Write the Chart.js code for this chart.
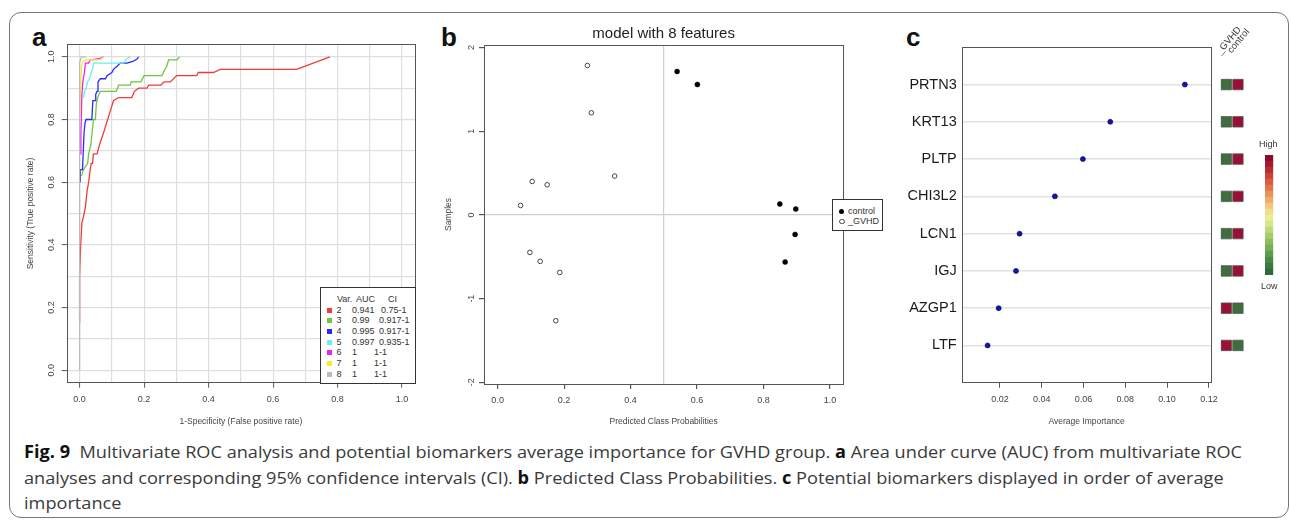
<!DOCTYPE html>
<html>
<head>
<meta charset="utf-8">
<script src="https://cdn.jsdelivr.net/npm/chart.js@4.4.1/dist/chart.umd.min.js"></script>
<style>
  html, body { margin: 0; padding: 0; background: #fff; }
  body { width: 1290px; height: 521px; position: relative; overflow: hidden; font-family: 'Liberation Sans', Arial, sans-serif; color: #333; }
  canvas { position: absolute; }
  .abs { position: absolute; white-space: nowrap; }
  .outer { position: absolute; left: 9px; top: 12px; width: 1278px; height: 504px; border: 1px solid #777; border-radius: 12px; }
  .panel { position: absolute; font: bold 26px/26px 'Liberation Sans', Arial, sans-serif; color: #111; }
  .leg { position: absolute; background: #fff; border: 1px solid #333; font-size: 9px; line-height: 10px; color: #333; }
  .leg span { position: absolute; white-space: nowrap; }
  .cap { position: absolute; left: 24px; height: 20px; font: 17px/20px 'Open Sans', 'Noto Sans', sans-serif; color: #3a3a3a; white-space: nowrap; transform-origin: 0 50%; }
  .cap b { color: #111; }
</style>
</head>
<body>
<div class="outer"></div>
<div class="panel" style="left:32px; top:24px;">a</div>
<div class="panel" style="left:441px; top:24px;">b</div>
<div class="panel" style="left:906px; top:24px;">c</div>

<canvas id="rocChart" width="410" height="390" style="left:10px; top:40px;"></canvas>
<canvas id="probChart" width="460" height="410" style="left:430px; top:20px;"></canvas>
<canvas id="impChart" width="330" height="410" style="left:890px; top:20px;"></canvas>
<canvas id="heatChart" width="40" height="410" style="left:1212px; top:20px;"></canvas>
<canvas id="barChart" width="30" height="130" style="left:1255px; top:150px;"></canvas>

<div id="legA" class="leg" style="left:320px; top:287px; width:94px; height:95px;"></div>
<div id="legB" class="leg" style="left:832px; top:199px; width:49px; height:30px;"></div>
<div id="heatLabels"></div>
<div class="abs" style="left:1259px; top:139px; font-size:9px; color:#333;">High</div>
<div class="abs" style="left:1261px; top:281px; font-size:9px; color:#333;">Low</div>

<div class="cap" style="top:442px;"><b>Fig. 9</b>&nbsp; Multivariate ROC analysis and potential biomarkers average importance for GVHD group. <b>a</b> Area under curve (AUC) from multivariate ROC</div>
<div class="cap" style="top:468px;">analyses and corresponding 95% confidence intervals (CI). <b>b</b> Predicted Class Probabilities. <b>c</b> Potential biomarkers displayed in order of average</div>
<div class="cap" style="top:493px;">importance</div>

<script>
// ---- panel a: ROC curves
const rocVars = ['2', '3', '4', '5', '6', '7', '8'];
const rocAuc  = ['0.941', '0.99', '0.995', '0.997', '1', '1', '1'];
const rocCi   = ['0.75-1', '0.917-1', '0.917-1', '0.935-1', '1-1', '1-1', '1-1'];
const rocColors = ['#f23a3a', '#6cc83c', '#2a2aff', '#66f0f0', '#ee22ee', '#f2ee2a', '#bdbdbd'];

const var2Fpr = [0, 0, 0.003, 0.007, 0.012, 0.018, 0.023, 0.028, 0.033, 0.036, 0.040, 0.043, 0.054, 0.062, 0.075, 0.090, 0.105, 0.121, 0.162, 0.170, 0.183, 0.209, 0.214, 0.252, 0.262, 0.281, 0.301, 0.363, 0.368, 0.415, 0.436, 0.673, 0.776];
const var2Tpr = [0.15, 0.30, 0.39, 0.47, 0.49, 0.52, 0.57, 0.60, 0.64, 0.66, 0.66, 0.69, 0.69, 0.72, 0.76, 0.81, 0.86, 0.87, 0.87, 0.89, 0.90, 0.90, 0.91, 0.91, 0.92, 0.92, 0.94, 0.94, 0.95, 0.95, 0.96, 0.96, 1.0];
const var3Fpr = [0.006, 0.010, 0.018, 0.025, 0.028, 0.035, 0.038, 0.043, 0.049, 0.052, 0.056, 0.064, 0.114, 0.121, 0.157, 0.160, 0.190, 0.200, 0.255, 0.270, 0.276, 0.302, 0.310];
const var3Tpr = [0.62, 0.635, 0.65, 0.66, 0.69, 0.72, 0.75, 0.80, 0.80, 0.85, 0.87, 0.89, 0.89, 0.91, 0.91, 0.92, 0.92, 0.94, 0.94, 0.97, 0.99, 0.99, 1.0];
const var4Fpr = [0.002, 0.002, 0.009, 0.011, 0.014, 0.017, 0.020, 0.038, 0.041, 0.048, 0.050, 0.054, 0.057, 0.064, 0.080, 0.085, 0.100, 0.105, 0.116, 0.126, 0.147, 0.167, 0.178, 0.183];
const var4Tpr = [0.60, 0.64, 0.64, 0.69, 0.76, 0.79, 0.80, 0.80, 0.86, 0.86, 0.88, 0.89, 0.92, 0.93, 0.93, 0.94, 0.95, 0.96, 0.97, 0.98, 0.98, 0.986, 0.993, 1.0];
const var5Fpr = [0.012, 0.015, 0.020, 0.025, 0.030, 0.035, 0.040, 0.043, 0.136, 0.147, 0.157];
const var5Tpr = [0.87, 0.89, 0.90, 0.92, 0.93, 0.945, 0.96, 0.98, 0.98, 0.995, 1.0];
const var6Fpr = [0.002, 0.004, 0.007, 0.010, 0.015, 0.018, 0.028, 0.033, 0.064, 0.074];
const var6Tpr = [0.69, 0.75, 0.88, 0.92, 0.95, 0.98, 0.98, 0.99, 0.995, 1.0];
const var7Fpr = [0, 0.003, 0.006, 0.010, 0.020, 0.064, 0.074];
const var7Tpr = [0.79, 0.90, 0.97, 0.985, 0.99, 0.99, 1.0];
const var8Fpr = [0, 0, 0.005, 0.020];
const var8Tpr = [0, 0.98, 1.0, 1.0];
const rocGrid = [0, 0.1, 0.2, 0.3, 0.4, 0.5, 0.6, 0.7, 0.8, 0.9, 1.0];

// ---- panel b: predicted class probabilities
const controlProb   = [0.540, 0.601, 0.849, 0.897, 0.895, 0.865];
const controlSample = [1.713, 1.558, 0.13, 0.07, -0.233, -0.563];
const gvhdProb   = [0.270, 0.282, 0.352, 0.104, 0.149, 0.069, 0.097, 0.128, 0.187, 0.175];
const gvhdSample = [1.785, 1.22, 0.464, 0.40, 0.36, 0.113, -0.448, -0.555, -0.687, -1.264];
const probTicks   = [0, 0.2, 0.4, 0.5, 0.6, 0.8, 1.0];
const sampleTicks = [-2, -1, 0, 1, 2];

// ---- panel c: average importance + group levels
const genes = ['PRTN3', 'KRT13', 'PLTP', 'CHI3L2', 'LCN1', 'IGJ', 'AZGP1', 'LTF'];
const importance = [0.1085, 0.0728, 0.0597, 0.0463, 0.0294, 0.0277, 0.0194, 0.0141];
const impTicks = [0.02, 0.04, 0.06, 0.08, 0.10, 0.12];
const heatCols = ['_GVHD', 'control'];
const gvhdLevel    = ['low', 'low', 'low', 'low', 'low', 'low', 'high', 'high'];
const controlLevel = ['high', 'high', 'high', 'high', 'high', 'high', 'low', 'low'];
const levelColor = { high: '#9a1034', low: '#3e6e3e' };
const colorbarColors = ['#2f6a3a', '#3b7a3e', '#4a8a45', '#5e9c4d', '#74ae56', '#8bbe60', '#a3cc6c', '#bcdb7b', '#d6e78b', '#eaec98',
                        '#f2dd8c', '#f2c67b', '#eeac69', '#e99158', '#e2764b', '#d95c41', '#cb4238', '#b92b32', '#a3192f', '#8c0b2d'];

const axisFont  = { family: "'Liberation Sans', Arial, sans-serif", size: 9 };
const titleFont = { family: "'Liberation Sans', Arial, sans-serif", size: 8.5 };
const clear = 'rgba(0,0,0,0)';

// box round the plot area, like R's box()
const frame = {
  id: 'frame',
  afterDraw(chart) {
    const a = chart.chartArea, ctx = chart.ctx;
    ctx.save();
    ctx.strokeStyle = '#555';
    ctx.lineWidth = 1;
    ctx.strokeRect(Math.round(a.left) + 0.5, Math.round(a.top) + 0.5, Math.round(a.right - a.left), Math.round(a.bottom - a.top));
    ctx.restore();
  }
};
const fixSize = (prop, v) => (s) => {
  s[prop] = v;
  s.paddingTop = s.paddingBottom = s.paddingLeft = s.paddingRight = 0;
};
const isMajor = (v) => Math.round(v * 10) % 2 === 0;
const common = { responsive: false, animation: false, devicePixelRatio: 1 };
const noPlugins = { legend: { display: false }, tooltip: { enabled: false } };

// ---- chart a
const rocFpr = [var2Fpr, var3Fpr, var4Fpr, var5Fpr, var6Fpr, var7Fpr, var8Fpr];
const rocTpr = [var2Tpr, var3Tpr, var4Tpr, var5Tpr, var6Tpr, var7Tpr, var8Tpr];
const rocSets = rocVars.map((v, i) => ({
  label: v,
  data: rocFpr[i].map((x, j) => ({ x: x, y: rocTpr[i][j] })),
  showLine: true, borderColor: rocColors[i], borderWidth: 1.3,
  pointRadius: 0, fill: false, tension: 0
})).reverse();

new Chart(document.getElementById('rocChart'), {
  type: 'scatter',
  data: { datasets: rocSets },
  plugins: [frame],
  options: Object.assign({}, common, {
    layout: { padding: { top: 4.3, right: 5, bottom: 0, left: 0 } },
    plugins: noPlugins,
    scales: {
      x: {
        type: 'linear', min: -0.04, max: 1.04,
        afterBuildTicks: s => { s.ticks = rocGrid.map(v => ({ value: v })); },
        afterFit: fixSize('height', 47.3),
        border: { display: false },
        grid: { color: '#dedede', lineWidth: 1.2, tickLength: 5, tickWidth: 1, tickColor: c => isMajor(c.tick.value) ? '#555' : clear },
        ticks: { font: axisFont, color: '#444', padding: 6, autoSkip: false, minRotation: 0, maxRotation: 0,
                 callback: v => isMajor(v) ? v.toFixed(1) : '' },
        title: { display: true, text: '1-Specificity (False positive rate)', font: titleFont, color: '#444', padding: { top: 0, bottom: 3.2 } }
      },
      y: {
        type: 'linear', min: -0.04, max: 1.04,
        afterBuildTicks: s => { s.ticks = rocGrid.map(v => ({ value: v })); },
        afterFit: fixSize('width', 56.7),
        border: { display: false },
        grid: { color: '#dedede', lineWidth: 1.2, tickLength: 5, tickWidth: 1, tickColor: c => isMajor(c.tick.value) ? '#555' : clear },
        ticks: { font: axisFont, color: '#444', padding: 3.5, autoSkip: false, minRotation: 90, maxRotation: 90, crossAlign: 'center',
                 callback: v => isMajor(v) ? v.toFixed(1) : '' },
        title: { display: true, text: 'Sensitivity (True positive rate)', font: titleFont, color: '#444', padding: { top: 15.9, bottom: 0 } }
      }
    }
  })
});

// ---- chart b
new Chart(document.getElementById('probChart'), {
  type: 'scatter',
  data: {
    datasets: [
      { label: 'control', data: controlProb.map((x, i) => ({ x: x, y: controlSample[i] })),
        pointRadius: 2.5, backgroundColor: '#000', borderColor: '#000', borderWidth: 0.5 },
      { label: '_GVHD', data: gvhdProb.map((x, i) => ({ x: x, y: gvhdSample[i] })),
        pointRadius: 2.3, backgroundColor: '#fff', borderColor: '#444', borderWidth: 1 }
    ]
  },
  plugins: [frame],
  options: Object.assign({}, common, {
    layout: { padding: { top: 0, right: 46.7, bottom: 0, left: 0 } },
    plugins: Object.assign({}, noPlugins, {
      title: { display: true, text: 'model with 8 features', fullSize: false, color: '#222',
               font: { family: "'Liberation Sans', Arial, sans-serif", size: 15, weight: 'normal' }, padding: { top: 5, bottom: 2 } }
    }),
    scales: {
      x: {
        type: 'linear', min: -0.041, max: 1.04,
        afterBuildTicks: s => { s.ticks = probTicks.map(v => ({ value: v })); },
        afterFit: fixSize('height', 46),
        border: { display: false },
        grid: { color: c => c.tick.value === 0.5 ? '#cfcfcf' : clear, lineWidth: 1.2, tickLength: 5,
                tickColor: c => c.tick.value === 0.5 ? clear : '#555' },
        ticks: { font: axisFont, color: '#444', padding: 6, autoSkip: false, minRotation: 0, maxRotation: 0,
                 callback: v => v === 0.5 ? '' : v.toFixed(1) },
        title: { display: true, text: 'Predicted Class Probabilities', font: titleFont, color: '#444', padding: { top: 0, bottom: 3.2 } }
      },
      y: {
        type: 'linear', min: -2.02, max: 2.03,
        afterBuildTicks: s => { s.ticks = sampleTicks.map(v => ({ value: v })); },
        afterFit: fixSize('width', 54),
        border: { display: false },
        grid: { color: c => c.tick.value === 0 ? '#cfcfcf' : clear, lineWidth: 1.2, tickLength: 5, tickColor: '#555' },
        ticks: { font: axisFont, color: '#444', padding: 3.3, autoSkip: false, minRotation: 90, maxRotation: 90, crossAlign: 'center',
                 callback: v => String(v) },
        title: { display: true, text: 'Samples', font: titleFont, color: '#444', padding: { top: 13.9, bottom: 0 } }
      }
    }
  })
});

// ---- chart c
new Chart(document.getElementById('impChart'), {
  type: 'scatter',
  data: {
    datasets: [{ label: 'importance', data: importance.map((x, i) => ({ x: x, y: genes.length - i })),
                 pointRadius: 2.5, backgroundColor: '#1414b4', borderColor: '#000050', borderWidth: 0.6 }]
  },
  plugins: [frame],
  options: Object.assign({}, common, {
    layout: { padding: { top: 27.3, right: 9, bottom: 0, left: 0 } },
    plugins: noPlugins,
    scales: {
      x: {
        type: 'linear', min: 0.002, max: 0.121,
        afterBuildTicks: s => { s.ticks = impTicks.map(v => ({ value: v })); },
        afterFit: fixSize('height', 47.3),
        border: { display: false },
        grid: { drawOnChartArea: false, tickLength: 5, tickColor: '#555' },
        ticks: { font: axisFont, color: '#444', padding: 6, autoSkip: false, minRotation: 0, maxRotation: 0,
                 callback: v => v.toFixed(2) },
        title: { display: true, text: 'Average Importance', font: titleFont, color: '#444', padding: { top: 0, bottom: 3.2 } }
      },
      y: {
        type: 'linear', min: 0, max: genes.length + 1,
        afterBuildTicks: s => { s.ticks = genes.map((g, i) => ({ value: genes.length - i })); },
        afterFit: fixSize('width', 72.3),
        border: { display: false },
        grid: { color: '#e2e2e2', lineWidth: 1.5, drawTicks: false },
        ticks: { font: { family: "'Liberation Sans', Arial, sans-serif", size: 14.5 }, color: '#1a1a1a', padding: 5.6, autoSkip: false,
                 callback: v => genes[genes.length - v] }
      }
    }
  })
});

// ---- group level cells (column index on a linear x scale: 0.5 = _GVHD, 1.5 = control)
const heatSets = [gvhdLevel, controlLevel].map((levels, c) => ({
  label: heatCols[c],
  data: genes.map((g, i) => ({ x: c + 0.5, y: genes.length - i })),
  pointStyle: 'rect', pointRadius: 7.4,
  backgroundColor: levels.map(l => levelColor[l]), borderColor: '#555', borderWidth: 0.8
}));
new Chart(document.getElementById('heatChart'), {
  type: 'scatter',
  data: { datasets: heatSets },
  options: Object.assign({}, common, {
    layout: { padding: { top: 27.3, right: 4.5, bottom: 47.3, left: 8.5 } },
    plugins: noPlugins,
    scales: {
      x: { type: 'linear', min: 0, max: heatCols.length, display: false },
      y: { type: 'linear', min: 0, max: genes.length + 1, display: false }
    }
  })
});

// ---- colour key
new Chart(document.getElementById('barChart'), {
  type: 'bar',
  data: {
    labels: [''],
    datasets: colorbarColors.map(c => ({ data: [1], backgroundColor: c, borderWidth: 0, barPercentage: 1, categoryPercentage: 1 }))
  },
  options: Object.assign({}, common, {
    layout: { padding: { top: 5, right: 11.7, bottom: 5, left: 10 } },
    plugins: noPlugins,
    scales: {
      x: { stacked: true, display: false },
      y: { stacked: true, display: false, min: 0, max: colorbarColors.length }
    }
  })
});

// ---- legend of panel a
const legA = document.getElementById('legA');
function addSpan(parent, text, css) {
  const s = document.createElement('span');
  s.textContent = text;
  s.style.cssText = css;
  parent.appendChild(s);
  return s;
}
addSpan(legA, 'Var.', 'left:16px; top:6px;');
addSpan(legA, 'AUC', 'left:35px; top:6px;');
addSpan(legA, 'CI', 'left:67px; top:6px;');
rocVars.forEach((v, k) => {
  const top = 16.6 + k * 10.67;
  addSpan(legA, '', 'left:6px; top:' + (top + 3) + 'px; width:5px; height:5px; background:' + rocColors[k] + ';');
  addSpan(legA, v, 'left:15.5px; top:' + top + 'px;');
  addSpan(legA, rocAuc[k], 'left:31px; top:' + top + 'px;');
  const ciLeft = rocAuc[k] === '1' ? 53 : (rocCi[k].length === 6 ? 60 : 58);
  addSpan(legA, rocCi[k], 'left:' + ciLeft + 'px; top:' + top + 'px;');
});

// ---- legend of panel b
const legB = document.getElementById('legB');
addSpan(legB, '', 'left:6px; top:8.5px; width:5px; height:5px; border-radius:50%; background:#000;');
addSpan(legB, 'control', 'left:15px; top:5.7px;');
addSpan(legB, '', 'left:6px; top:18.5px; width:3.5px; height:3.5px; border-radius:50%; border:1px solid #444;');
addSpan(legB, '_GVHD', 'left:15px; top:15.7px;');

// ---- column labels of the level cells
const hl = document.getElementById('heatLabels');
[[1222, 46], [1233, 44.5]].forEach((p, i) => {
  addSpan(hl, heatCols[i], 'position:absolute; left:' + p[0] + 'px; top:' + p[1] + 'px; font-size:9.5px; line-height:10px; color:#333;' +
    'transform-origin:0 100%; transform:rotate(-50deg);');
});

// ---- caption, stretched to the width of the first line
const caps = document.querySelectorAll('.cap');
const k = 1218 / caps[0].getBoundingClientRect().width;
caps.forEach(c => { c.style.transform = 'scaleX(' + k + ')'; });
</script>
</body>
</html>
